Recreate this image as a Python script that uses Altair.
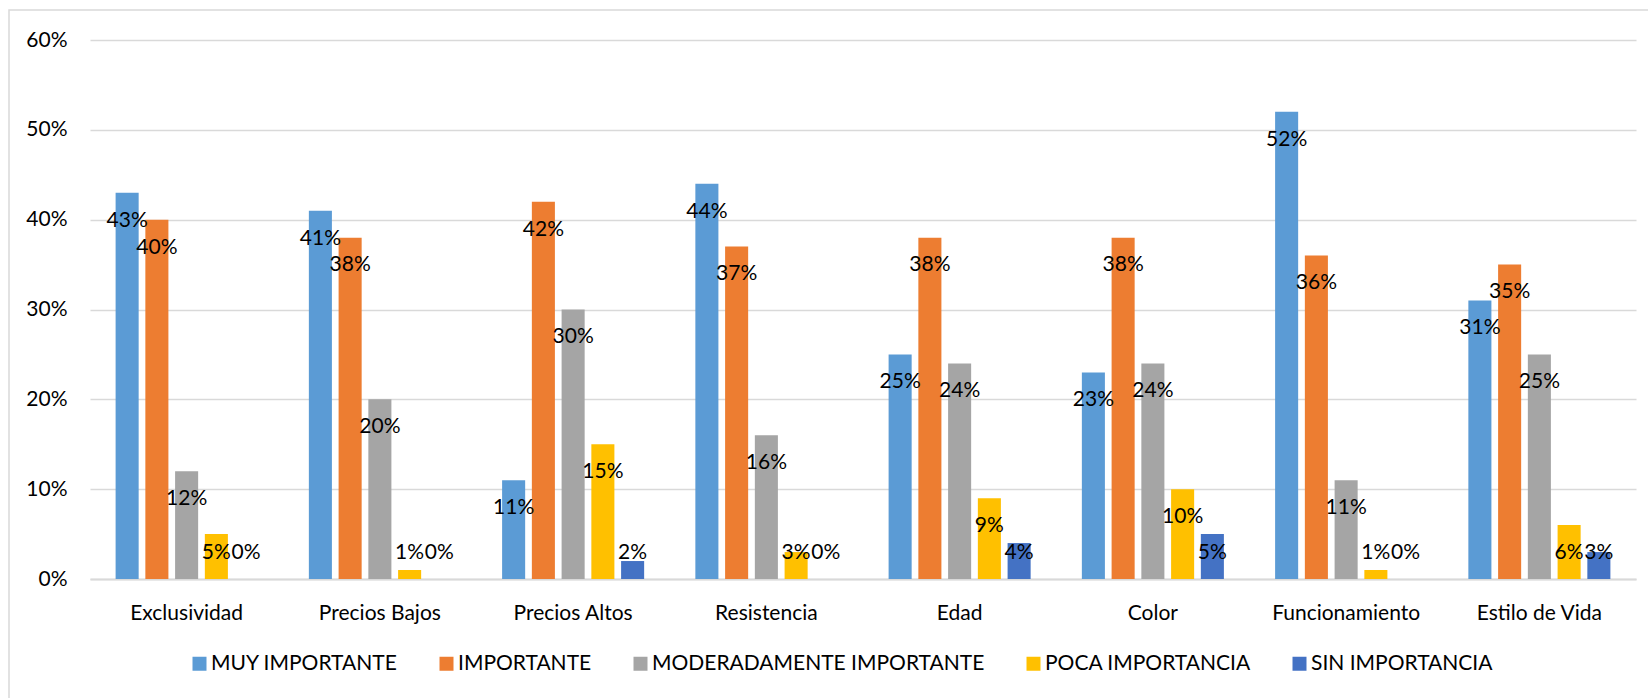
import altair as alt
import pandas as pd

# Factores evaluados y niveles de importancia
categorias = ["Exclusividad", "Precios Bajos", "Precios Altos", "Resistencia",
              "Edad", "Color", "Funcionamiento", "Estilo de Vida"]
series = ["MUY IMPORTANTE", "IMPORTANTE", "MODERADAMENTE IMPORTANTE",
          "POCA IMPORTANCIA", "SIN IMPORTANCIA"]
colores = ["#5B9BD5", "#ED7D31", "#A5A5A5", "#FFC000", "#4472C4"]

# Porcentaje de respuestas por nivel (un valor por factor)
muy_importante = [43, 41, 11, 44, 25, 23, 52, 31]
importante = [40, 38, 42, 37, 38, 38, 36, 35]
moderadamente = [12, 20, 30, 16, 24, 24, 11, 25]
poca = [5, 1, 15, 3, 9, 10, 1, 6]
sin = [0, 0, 2, 0, 4, 5, 0, 3]

valores = [muy_importante, importante, moderadamente, poca, sin]
filas = []
for serie, vals in zip(series, valores):
    for cat, v in zip(categorias, vals):
        filas.append({"factor": cat, "nivel": serie, "valor": v})
df = pd.DataFrame(filas)

FONT = "Lato"
FS = 21
W, H = 1546, 539

x_enc = alt.X("factor:N", sort=categorias, title=None,
              scale=alt.Scale(paddingInner=0.265, paddingOuter=0.1325),
              axis=alt.Axis(labelAngle=0, labelFont=FONT, labelFontSize=FS,
                            labelColor="#000000", labelPadding=23, ticks=False,
                            domainColor="#D9D9D9", domainWidth=2))
xoff_enc = alt.XOffset("nivel:N", sort=series,
                       scale=alt.Scale(paddingInner=0.225, paddingOuter=0))

barras = alt.Chart(df).mark_bar().encode(
    x=x_enc,
    xOffset=xoff_enc,
    y=alt.Y("valor:Q", title=None,
            scale=alt.Scale(domain=[0, 60], nice=False),
            axis=alt.Axis(values=[0, 10, 20, 30, 40, 50, 60],
                          labelExpr="datum.value + '%'",
                          labelFont=FONT, labelFontSize=FS, labelColor="#000000",
                          labelPadding=23, ticks=False, domain=False,
                          gridColor="#D9D9D9", gridWidth=1.5)),
    color=alt.Color("nivel:N", sort=series,
                    scale=alt.Scale(domain=series, range=colores),
                    legend=alt.Legend(title=None, orient="none", direction="horizontal",
                                      columns=5, legendX=99, legendY=613,
                                      symbolType="square", symbolSize=196,
                                      symbolStrokeWidth=0, symbolOpacity=1,
                                      labelFont=FONT, labelFontSize=FS,
                                      labelColor="#000000", labelOffset=1,
                                      labelLimit=0, columnPadding=38, padding=0)),
)

# Etiquetas dentro del extremo de cada barra
etiquetas = alt.Chart(df).transform_calculate(
    pos="max(datum.valor - 3.1, 2.9)",
    texto="datum.valor + '%'",
).mark_text(font=FONT, fontSize=FS, color="#000000", baseline="middle").encode(
    x=alt.X("factor:N", sort=categorias),
    xOffset=alt.XOffset("nivel:N", sort=series),
    y=alt.Y("pos:Q"),
    text="texto:N",
)

# Marco exterior del gráfico
marco = alt.Chart(pd.DataFrame({"k": [0]})).mark_rect(
    fillOpacity=0, stroke="#D9D9D9", strokeWidth=1.5
).encode(x=alt.value(-81), x2=alt.value(1700), y=alt.value(-30), y2=alt.value(800))

chart = alt.layer(marco, barras, etiquetas).properties(
    width=W, height=H,
    autosize=alt.AutoSizeParams(type="none"),
    padding={"left": 90, "top": 40, "right": 12, "bottom": 119},
    background="white",
).configure_view(strokeWidth=0)

chart.save("out.html", embed_options={"renderer": "svg", "actions": False})
